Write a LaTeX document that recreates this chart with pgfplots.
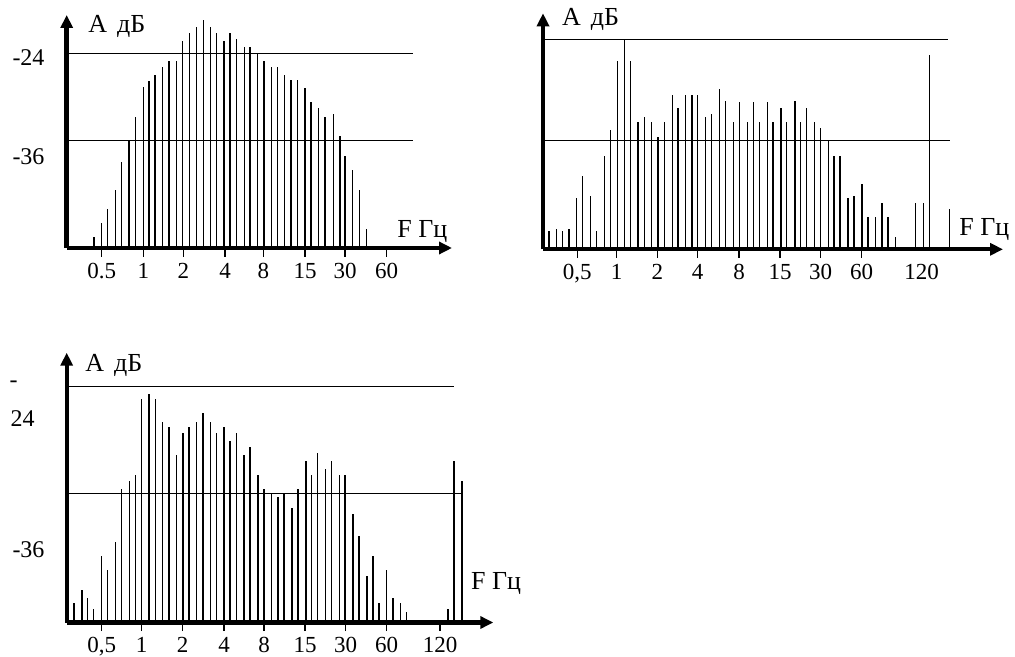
\documentclass[border=0pt]{standalone}
\usepackage{fontspec}
\setmainfont{Liberation Serif}
\usepackage{pgfplots}
\pgfplotsset{compat=1.18}
\usetikzlibrary{arrows.meta}

\pgfplotsset{
  spec/.style={
    x=0.5pt, y=0.5pt,
    anchor=south west,
    enlargelimits=false,
    axis lines*=left,
    axis line style={line width=2.2pt, -{Triangle[length=6.5pt,width=6pt]}},
    ymin=0, clip=false,
    ytick=\empty,
    tick align=outside,
    major tick length=4.3pt,
    tick style={line width=0.65pt, black},
    xticklabel style={font=\fontsize{11.5}{12}\selectfont, inner sep=1pt, yshift=-2pt},
  },
  bars/.style={black, ycomb, line width=0.62pt, mark=none},
  refl/.style={black, line width=0.6pt, mark=none},
}
\tikzset{
  lab/.style={font=\fontsize{13}{14}\selectfont, inner sep=0pt},
  num/.style={font=\fontsize{12}{13}\selectfont},
}

\pgfplotstableread{
x h
94 10.7
101.7 24.7
107.7 38.7
115.7 58
121.3 85.7
129 107.3
135.7 131.3
143.3 161.3
149 167.3
155 173
162.7 181.3
169 187
176.7 187
182.7 207
189.3 214.7
196.7 221.3
203.3 228
210.7 221.3
216.7 214.7
224 207
230 214.7
236.7 209
244.3 201.3
250 201.3
257.7 194.7
264 187
271.7 181.3
277.7 181.3
284.3 173
291 168
297.7 168
305 159.7
311 145.7
318.3 139.7
325 131.3
333.3 133.7
340 112
345 92.3
352.7 78
359.3 58
366.7 18.7
}\dataA

\pgfplotstableread{
x h
549 18.7
556.7 20
562.7 18.3
569 20
576.7 51.7
582.7 73.7
590.7 53.7
596.7 18.3
604.7 93.7
610.7 119.3
617.3 188.3
624.3 209.3
630.3 188.3
638 127
644.3 132.7
651.7 127
658 112.7
664.3 127
672.3 154.3
678 141
685.7 154.3
692 154.3
697.7 154.3
705.7 132.7
711.7 135
719.7 160.3
725.7 148.7
733.3 127
739.3 147
747.3 127
753.3 147
759.3 127
767.3 147
773 127
781 141
786.7 127
795 148.7
800.7 127
806.7 141
814.3 127
820.3 121
828.7 108.7
834 93.7
840 93.7
848 51.7
854 53.7
862 65.3
868 32
875.7 32
882 46
888 32
895.7 12
915.7 46
923.3 46
929.7 194.3
949.3 40
}\dataB

\pgfplotstableread{
x h
74 19.2
82 32.5
87.7 24.8
93.7 13.2
101.7 66.5
107.7 52.5
115.7 80.2
121.3 133.5
129.7 141.5
135.3 147.5
141.3 223.2
149 228.5
155.3 223.2
162.7 200.8
169 195.2
176.7 167.5
183 189.2
189 195.2
196.3 200.8
203 209.2
210.3 200.8
216.3 189.2
224 195.2
230 181.5
236.3 189.2
244 167.5
250 175.2
258 147.5
264 133.5
271.7 129.2
278 125.8
284 129.2
292 114.2
298 133.5
306 161.5
311.7 147.5
317.7 169.2
325.3 153.5
331.3 161.5
339.3 147.5
345 147.5
353 108.2
359 86.5
367 46.5
373 66.5
379 19.2
386.7 52.5
393 24.8
400.7 19.2
406.7 10.8
448 13.2
454 161.5
462 141.5
}\dataC

\begin{document}
\begin{tikzpicture}
\useasboundingbox (0,0) rectangle (507.5pt,-328.5pt);

% Panel 1
\begin{axis}[spec, at={(66.7*0.5pt,-248*0.5pt)},
  xmin=66.7, xmax=452, ymax=233,
  xtick={101.7,143.3,183.3,225,263.3,305,345,386.7},
  xticklabels={0.5,1,2,4,8,15,30,60}]
\addplot[bars] table[x=x,y=h] {\dataA};
\addplot[refl] coordinates {(66.7,194.7) (413,194.7)};
\addplot[refl] coordinates {(66.7,107.3) (413,107.3)};
\node[num] at (axis cs:28.5,190) {-24};
\node[num] at (axis cs:28.5,91) {-36};
\node[lab, anchor=base west] at (axis cs:88,215) {A\hspace{5pt}дБ};
\node[lab, anchor=base west] at (axis cs:397,10.7) {F Гц};
\end{axis}

% Panel 2
\begin{axis}[spec, at={(543*0.5pt,-249.3*0.5pt)},
  xmin=543, xmax=1003, ymax=236,
  xtick={577.3,616.7,657.3,697.7,739,780,820.7,861.7},
  xticklabels={{0,5},1,2,4,8,15,30,60},
  extra x ticks={921.7}, extra x tick labels={120},
  extra x tick style={major tick style={draw=none}}]
\addplot[bars] table[x=x,y=h] {\dataB};
\addplot[refl] coordinates {(543,210) (947.7,210)};
\addplot[refl] coordinates {(543,108.7) (950,108.7)};
\node[lab, anchor=base west] at (axis cs:561.7,223.3) {A\hspace{5pt}дБ};
\node[lab, anchor=base west] at (axis cs:959,13.3) {F Гц};
\end{axis}

% Panel 3
\begin{axis}[spec, at={(66.7*0.5pt,-622.5*0.5pt)},
  xmin=66.7, xmax=493.3, ymax=269.8,
  xtick={101.7,141.7,182.7,224,264,305,345.7,386.7,440},
  xticklabels={{0,5},1,2,4,8,15,30,60,120}]
\addplot[bars] table[x=x,y=h] {\dataC};
\addplot[refl] coordinates {(66.7,235.8) (454,235.8)};
\addplot[refl] coordinates {(66.7,129.2) (461.7,129.2)};
\node[num] at (axis cs:13.5,238) {-};
\node[num] at (axis cs:22.5,203.5) {24};
\node[num] at (axis cs:28.5,72.5) {-36};
\node[lab, anchor=base west] at (axis cs:85,250.8) {A\hspace{5pt}дБ};
\node[lab, anchor=base west] at (axis cs:470.7,33.2) {F Гц};
\end{axis}
\end{tikzpicture}
\end{document}
